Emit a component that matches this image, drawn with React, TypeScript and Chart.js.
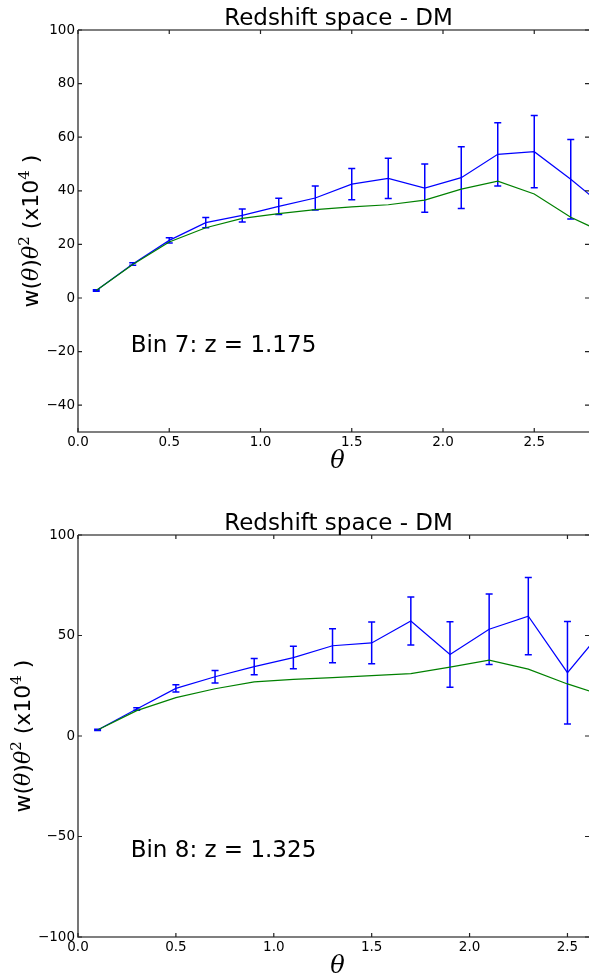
import React, { useEffect, useRef } from "react";
import { Chart, registerables } from "chart.js";

Chart.register(...registerables);

// ---- data: Bin 7 ----
const theta7 = [0.1, 0.3, 0.5, 0.7, 0.9, 1.1, 1.3, 1.5, 1.7, 1.9, 2.1, 2.3, 2.5, 2.7, 2.9];
const blue7 = [2.8, 12.7, 21.5, 28.1, 30.8, 34.2, 37.3, 42.5, 44.6, 41.0, 44.9, 53.6, 54.6, 44.3, 33.2];
const err7 = [0.3, 0.45, 1.0, 1.9, 2.4, 3.0, 4.5, 5.8, 7.5, 9.0, 11.5, 11.8, 13.5, 14.8, 15.0];
const green7 = [2.8, 12.5, 20.9, 26.2, 29.7, 31.5, 33.0, 34.0, 34.8, 36.5, 40.6, 43.6, 38.8, 30.1, 23.8];
const yTicks7 = [-40, -20, 0, 20, 40, 60, 80, 100];

// ---- data: Bin 8 ----
const theta8 = [0.1, 0.3, 0.5, 0.7, 0.9, 1.1, 1.3, 1.5, 1.7, 1.9, 2.1, 2.3, 2.5, 2.7];
const blue8 = [3.0, 13.4, 23.7, 29.5, 34.5, 39.0, 44.9, 46.3, 57.2, 40.6, 53.1, 59.6, 31.5, 55.0];
const err8 = [0.3, 0.6, 1.8, 3.1, 4.0, 5.6, 8.5, 10.4, 11.9, 16.3, 17.5, 19.2, 25.5, 27.0];
const green8 = [3.0, 12.6, 19.1, 23.5, 26.9, 28.2, 29.0, 30.0, 31.0, 34.3, 37.7, 33.3, 25.9, 19.7];
const yTicks8 = [-100, -50, 0, 50, 100];

const xTicks = [0, 0.5, 1.0, 1.5, 2.0, 2.5];
const titleText = "Redshift space - DM";
const binLabel7 = "Bin 7: z = 1.175";
const binLabel8 = "Bin 8: z = 1.325";

// ---- layout / styling (not data) ----
const W = 589;
const panels = [
  { theta: theta7, blue: blue7, err: err7, green: green7, yTicks: yTicks7, label: binLabel7,
    xMax: 2.8, yMin: -50, yMax: 100, height: 490, areaTop: 30, areaBottom: 432, yLabelX: 38 },
  { theta: theta8, blue: blue8, err: err8, green: green8, yTicks: yTicks8, label: binLabel8,
    xMax: 2.61, yMin: -100, yMax: 100, height: 490, areaTop: 45, areaBottom: 447, yLabelX: 30 },
];
const AREA_LEFT = 78;
const SANS = '"DejaVu Sans", sans-serif';
const SERIF = '"DejaVu Serif", serif';
const BLUE = "#0000ff";
const GREEN = "#008000";

const decorPlugin = {
  id: "decor",
  beforeDatasetsDraw(chart: any, _args: any, opts: any) {
    const { ctx, chartArea } = chart;
    const xs = chart.scales.x;
    const ys = chart.scales.y;
    ctx.save();
    ctx.beginPath();
    ctx.rect(chartArea.left, chartArea.top, chartArea.right - chartArea.left, chartArea.bottom - chartArea.top);
    ctx.clip();
    ctx.strokeStyle = BLUE;
    ctx.lineWidth = 1.5;
    const cap = 3.5;
    opts.theta.forEach((t: number, i: number) => {
      const px = xs.getPixelForValue(t);
      const y1 = ys.getPixelForValue(opts.blue[i] + opts.err[i]);
      const y2 = ys.getPixelForValue(opts.blue[i] - opts.err[i]);
      ctx.beginPath();
      ctx.moveTo(px, y1);
      ctx.lineTo(px, y2);
      ctx.moveTo(px - cap, y1);
      ctx.lineTo(px + cap, y1);
      ctx.moveTo(px - cap, y2);
      ctx.lineTo(px + cap, y2);
      ctx.stroke();
    });
    ctx.restore();
  },
  afterDraw(chart: any, _args: any, opts: any) {
    const { ctx, chartArea } = chart;
    const xs = chart.scales.x;
    const ys = chart.scales.y;
    const { left, right, top, bottom } = chartArea;
    ctx.save();
    // spines
    ctx.strokeStyle = "#555";
    ctx.lineWidth = 1.6;
    ctx.beginPath();
    ctx.moveTo(left, top);
    ctx.lineTo(right, top);
    ctx.moveTo(left, top);
    ctx.lineTo(left, bottom);
    ctx.lineTo(right, bottom);
    ctx.stroke();
    // inward ticks
    ctx.strokeStyle = "#222";
    ctx.lineWidth = 1.2;
    const tl = 4;
    ctx.beginPath();
    xs.ticks.forEach((t: any) => {
      const px = xs.getPixelForValue(t.value);
      ctx.moveTo(px, bottom);
      ctx.lineTo(px, bottom - tl);
      ctx.moveTo(px, top);
      ctx.lineTo(px, top + tl);
    });
    ys.ticks.forEach((t: any) => {
      const py = ys.getPixelForValue(t.value);
      ctx.moveTo(left, py);
      ctx.lineTo(left + tl, py);
      ctx.moveTo(right, py);
      ctx.lineTo(right - tl, py);
    });
    ctx.stroke();

    ctx.fillStyle = "#000";
    // title
    ctx.font = `23px ${SANS}`;
    ctx.textAlign = "center";
    ctx.textBaseline = "alphabetic";
    ctx.fillText(titleText, left + 260.5, top - 5);
    // bin annotation
    ctx.font = `23px ${SANS}`;
    ctx.textAlign = "left";
    ctx.fillText(opts.label, left + 52.7, bottom - 80);
    // x axis label
    ctx.font = `italic 24px ${SERIF}`;
    ctx.textAlign = "center";
    ctx.fillText("\u03b8", left + 259.5, bottom + 36);
    // y axis label (rotated, mixed fonts)
    const s = 22;
    const segs = [
      { t: "w(", f: `${s}px ${SANS}`, dy: 0 },
      { t: "\u03b8", f: `italic ${s}px ${SERIF}`, dy: 0 },
      { t: ")", f: `${s}px ${SANS}`, dy: 0 },
      { t: "\u03b8", f: `italic ${s}px ${SERIF}`, dy: 0 },
      { t: "2", f: `${Math.round(s * 0.68)}px ${SERIF}`, dy: -s * 0.42 },
      { t: " (x10", f: `${s}px ${SANS}`, dy: 0 },
      { t: "4", f: `${Math.round(s * 0.68)}px ${SERIF}`, dy: -s * 0.42 },
      { t: " )", f: `${s}px ${SANS}`, dy: 0 },
    ];
    let total = 0;
    const widths = segs.map((sg) => {
      ctx.font = sg.f;
      const w = ctx.measureText(sg.t).width;
      total += w;
      return w;
    });
    ctx.translate(opts.yLabelX, (top + bottom) / 2);
    ctx.rotate(-Math.PI / 2);
    ctx.textAlign = "left";
    let x = -total / 2;
    segs.forEach((sg, i) => {
      ctx.font = sg.f;
      ctx.fillText(sg.t, x, sg.dy);
      x += widths[i];
    });
    ctx.restore();
  },
};

function Panel({ p }: { p: typeof panels[number] }) {
  const ref = useRef<HTMLCanvasElement | null>(null);
  useEffect(() => {
    if (!ref.current) return;
    const blueData = p.theta.map((t, i) => ({ x: t, y: p.blue[i] }));
    const greenData = p.theta.map((t, i) => ({ x: t, y: p.green[i] }));
    const chart = new Chart(ref.current, {
      type: "line",
      data: {
        datasets: [
          { data: greenData, borderColor: GREEN, borderWidth: 1.2, pointRadius: 0, tension: 0, fill: false },
          { data: blueData, borderColor: BLUE, borderWidth: 1.2, pointRadius: 0, tension: 0, fill: false },
        ],
      },
      options: {
        responsive: false,
        animation: false,
        devicePixelRatio: 1,
        events: [],
        layout: { padding: { left: 0, right: 0, top: p.areaTop, bottom: 0 } },
        plugins: {
          legend: { display: false },
          tooltip: { enabled: false },
          title: { display: false },
          decor: { theta: p.theta, blue: p.blue, err: p.err, label: p.label, yLabelX: p.yLabelX },
        } as any,
        scales: {
          x: {
            type: "linear",
            min: 0,
            max: p.xMax,
            grid: { display: false, drawTicks: false },
            border: { display: false },
            afterBuildTicks: (axis: any) => {
              axis.ticks = xTicks.map((value) => ({ value }));
            },
            afterFit: (axis: any) => {
              axis.height = p.height - p.areaBottom;
            },
            ticks: {
              autoSkip: false,
              maxRotation: 0,
              padding: 2,
              color: "#000",
              font: { family: "DejaVu Sans", size: 13.5 },
              callback: (v: any) => Number(v).toFixed(1),
            },
          },
          y: {
            type: "linear",
            min: p.yMin,
            max: p.yMax,
            grid: { display: false, drawTicks: false },
            border: { display: false },
            afterBuildTicks: (axis: any) => {
              axis.ticks = p.yTicks.map((value) => ({ value }));
            },
            afterFit: (axis: any) => {
              axis.width = AREA_LEFT;
            },
            ticks: {
              autoSkip: false,
              padding: 3,
              color: "#000",
              font: { family: "DejaVu Sans", size: 13.5 },
              callback: (v: any) => String(v).replace("-", "\u2212"),
            },
          },
        },
      },
      plugins: [decorPlugin],
    } as any);
    return () => chart.destroy();
  }, [p]);
  return <canvas ref={ref} width={W} height={p.height} style={{ display: "block" }} />;
}

export default function App() {
  return (
    <div style={{ position: "absolute", left: 0, top: 0, width: W, height: 980, background: "#fff", overflow: "hidden" }}>
      {panels.map((p, i) => (
        <Panel key={i} p={p} />
      ))}
    </div>
  );
}
